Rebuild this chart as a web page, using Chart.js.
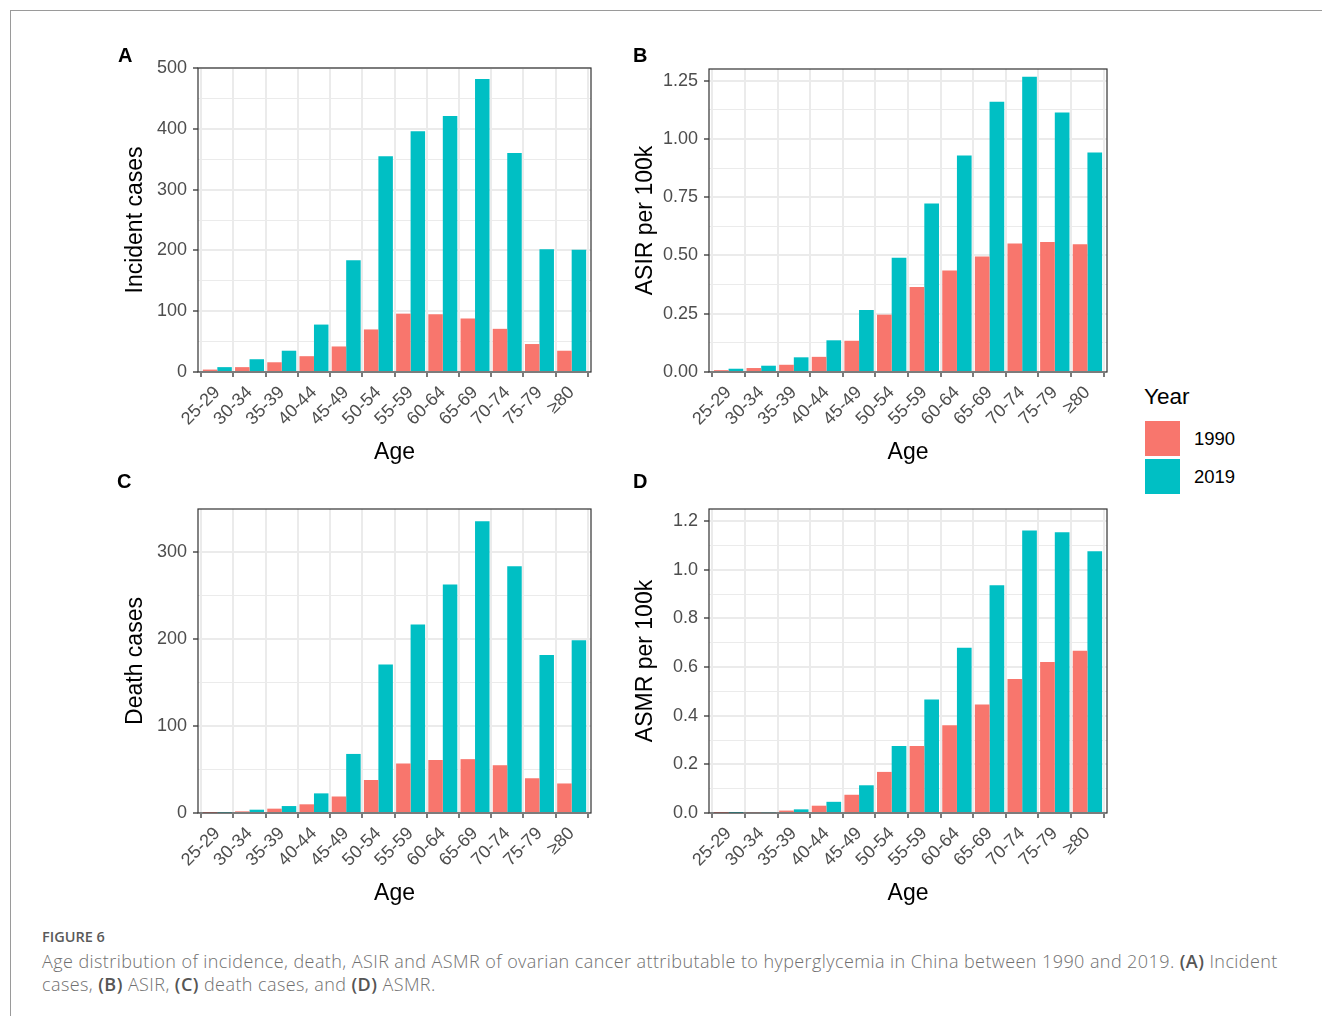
<!DOCTYPE html>
<html>
<head>
<meta charset="utf-8">
<script src="https://cdn.jsdelivr.net/npm/chart.js@4/dist/chart.umd.min.js"></script>
<style>
  html, body { margin: 0; padding: 0; background: #fff; }
  body { width: 1322px; height: 1016px; position: relative; overflow: hidden; font-family: "Liberation Sans", Arial, sans-serif; }
  #frame { position: absolute; left: 10px; top: 10px; width: 1330px; height: 1030px; border-top: 1.5px solid #9a9a9a; border-left: 1.5px solid #9a9a9a; }
  canvas { position: absolute; }
  .tag { position: absolute; font-weight: bold; font-size: 20px; line-height: 1; color: #000; }
  .leg { position: absolute; line-height: 1; color: #000; }
  .sw { position: absolute; width: 35px; height: 35px; }
  #figlab { position: absolute; left: 42px; top: 930px; font-family: "Open Sans", sans-serif; font-weight: 600; font-size: 14.5px; color: #5a5a5a; line-height: 1; }
  #cap { position: absolute; left: 42px; top: 950px; font-family: "Open Sans", sans-serif; font-weight: 300; font-size: 18px; letter-spacing: 0.42px; line-height: 23px; color: #707070; white-space: nowrap; }
  #cap b { font-weight: 600; color: #555; }
</style>
</head>
<body>
<div id="frame"></div>
<canvas id="cA" width="520" height="440" style="left:100px;top:40px"></canvas>
<canvas id="cB" width="520" height="440" style="left:610px;top:40px"></canvas>
<canvas id="cC" width="520" height="440" style="left:100px;top:480px"></canvas>
<canvas id="cD" width="520" height="440" style="left:610px;top:480px"></canvas>
<div class="tag" style="left:118px;top:45px">A</div>
<div class="tag" style="left:633px;top:45px">B</div>
<div class="tag" style="left:117px;top:471px">C</div>
<div class="tag" style="left:633px;top:471px">D</div>
<div class="leg" style="left:1144px;top:386px;font-size:22.5px">Year</div>
<div class="sw" style="left:1145px;top:421px;background:#F8766D"></div>
<div class="sw" style="left:1145px;top:459px;background:#00BFC4"></div>
<div class="leg" style="left:1194px;top:430px;font-size:18.5px">1990</div>
<div class="leg" style="left:1194px;top:468px;font-size:18.5px">2019</div>
<div id="figlab">FIGURE 6</div>
<div id="cap">Age distribution of incidence, death, ASIR and ASMR of ovarian cancer attributable to hyperglycemia in China between 1990 and 2019. <b>(A)</b> Incident<br>cases, <b>(B)</b> ASIR, <b>(C)</b> death cases, and <b>(D)</b> ASMR.</div>
<script>
const ages = ['25-29','30-34','35-39','40-44','45-49','50-54','55-59','60-64','65-69','70-74','75-79','\u226580'];
const years = ['1990', '2019'];

const incident1990 = [4, 8, 16, 26, 42, 70, 96, 95, 88, 71, 46, 35];
const incident2019 = [8, 21, 35, 78, 184, 355, 396, 421, 482, 360, 202, 201];
const asir1990 = [0.008, 0.017, 0.031, 0.065, 0.134, 0.246, 0.365, 0.435, 0.496, 0.551, 0.558, 0.548];
const asir2019 = [0.014, 0.027, 0.063, 0.136, 0.266, 0.490, 0.723, 0.929, 1.160, 1.267, 1.113, 0.942];
const death1990 = [0.3, 1.9, 5, 10, 19, 38, 57, 61, 62, 55, 40, 34];
const death2019 = [0.5, 3.8, 8, 22.6, 68, 171, 217, 263, 336, 284, 182, 199];
const asmr1990 = [0.001, 0.003, 0.010, 0.030, 0.075, 0.169, 0.276, 0.361, 0.446, 0.551, 0.621, 0.667];
const asmr2019 = [0.001, 0.003, 0.015, 0.046, 0.114, 0.275, 0.467, 0.679, 0.936, 1.162, 1.154, 1.076];

const ticksA = [0, 100, 200, 300, 400, 500];
const labelsA = ['0', '100', '200', '300', '400', '500'];
const ticksB = [0, 0.25, 0.5, 0.75, 1.0, 1.25];
const labelsB = ['0.00', '0.25', '0.50', '0.75', '1.00', '1.25'];
const ticksC = [0, 100, 200, 300];
const labelsC = ['0', '100', '200', '300'];
const ticksD = [0, 0.2, 0.4, 0.6, 0.8, 1.0, 1.2];
const labelsD = ['0.0', '0.2', '0.4', '0.6', '0.8', '1.0', '1.2'];

const colors = ['#F8766D', '#00BFC4'];
const FONT = '"Liberation Sans", Arial, sans-serif';

const framePlugin = {
  id: 'frame',
  afterDatasetsDraw(chart) {
    const a = chart.chartArea, ctx = chart.ctx;
    ctx.save();
    ctx.strokeStyle = '#333333';
    ctx.lineWidth = 1.2;
    ctx.strokeRect(a.left, a.top, a.right - a.left, a.bottom - a.top);
    ctx.restore();
  }
};

function makePanel(id, box, area, v1990, v2019, yMax, majors, labels, yTitle, xTitleBottom) {
  const step = majors[1] - majors[0];
  const all = [];
  majors.forEach(v => { all.push(v); if (v + step / 2 < yMax) all.push(v + step / 2); });
  all.sort((a, b) => a - b);
  const isMajor = v => majors.some(m => Math.abs(m - v) < 1e-9);
  const labelOf = v => { const i = majors.findIndex(m => Math.abs(m - v) < 1e-9); return i >= 0 ? labels[i] : ''; };
  const series = [v1990, v2019];
  new Chart(document.getElementById(id), {
    type: 'bar',
    data: {
      datasets: series.map((vals, k) => ({
        label: years[k],
        data: vals.map((v, i) => ({ x: i + 1, y: v })),
        backgroundColor: colors[k],
        borderWidth: 0,
        categoryPercentage: 0.9,
        barPercentage: 1.0
      }))
    },
    options: {
      responsive: false,
      animation: false,
      devicePixelRatio: 1,
      layout: { padding: { top: area.top - box.top, right: box.left + box.w - area.right, left: 0, bottom: 0 } },
      plugins: { legend: { display: false }, tooltip: { enabled: false } },
      scales: {
        x: {
          type: 'linear', min: 0.4, max: 12.6, offset: false,
          afterBuildTicks: s => { s.ticks = ages.map((_, i) => ({ value: i + 1 })); },
          afterFit: s => { s.height = box.top + box.h - area.bottom; },
          ticks: { autoSkip: false, minRotation: 45, maxRotation: 45, padding: 5, color: '#4d4d4d',
                   font: { family: FONT, size: 18 }, callback: v => ages[Math.round(v) - 1] },
          grid: { color: '#ebebeb', lineWidth: 2, tickColor: '#333333', tickLength: 5, tickWidth: 1.3 },
          border: { display: false },
          title: { display: true, text: 'Age', color: '#000', font: { family: FONT, size: 23 },
                   padding: { top: 0, bottom: xTitleBottom } }
        },
        y: {
          min: 0, max: yMax,
          afterBuildTicks: s => { s.ticks = all.map(v => ({ value: v })); },
          afterFit: s => { s.width = area.left - box.left; },
          ticks: { autoSkip: false, padding: 6, color: '#4d4d4d', font: { family: FONT, size: 18 },
                   callback: v => labelOf(v) },
          grid: {
            color: '#ebebeb',
            lineWidth: ctx => (ctx.tick && isMajor(ctx.tick.value)) ? 2 : 1,
            tickColor: ctx => (ctx.tick && isMajor(ctx.tick.value)) ? '#333333' : 'rgba(0,0,0,0)',
            tickLength: 5, tickWidth: 1.3
          },
          border: { display: false },
          title: { display: true, text: yTitle, color: '#000', font: { family: FONT, size: 23 },
                   padding: { top: 22.2, bottom: 0 } }
        }
      }
    },
    plugins: [framePlugin]
  });
}

makePanel('cA', { left: 100, top: 40, w: 520, h: 440 }, { left: 198, top: 68, right: 591, bottom: 372 },
  incident1990, incident2019, 500, ticksA, labelsA, 'Incident cases', 13.2);
makePanel('cB', { left: 610, top: 40, w: 520, h: 440 }, { left: 709, top: 69, right: 1107, bottom: 372 },
  asir1990, asir2019, 1.30, ticksB, labelsB, 'ASIR per 100k', 13.2);
makePanel('cC', { left: 100, top: 480, w: 520, h: 440 }, { left: 198, top: 509, right: 591, bottom: 813 },
  death1990, death2019, 350, ticksC, labelsC, 'Death cases', 12.2);
makePanel('cD', { left: 610, top: 480, w: 520, h: 440 }, { left: 709, top: 509, right: 1107, bottom: 813 },
  asmr1990, asmr2019, 1.25, ticksD, labelsD, 'ASMR per 100k', 12.2);
</script>
</body>
</html>
